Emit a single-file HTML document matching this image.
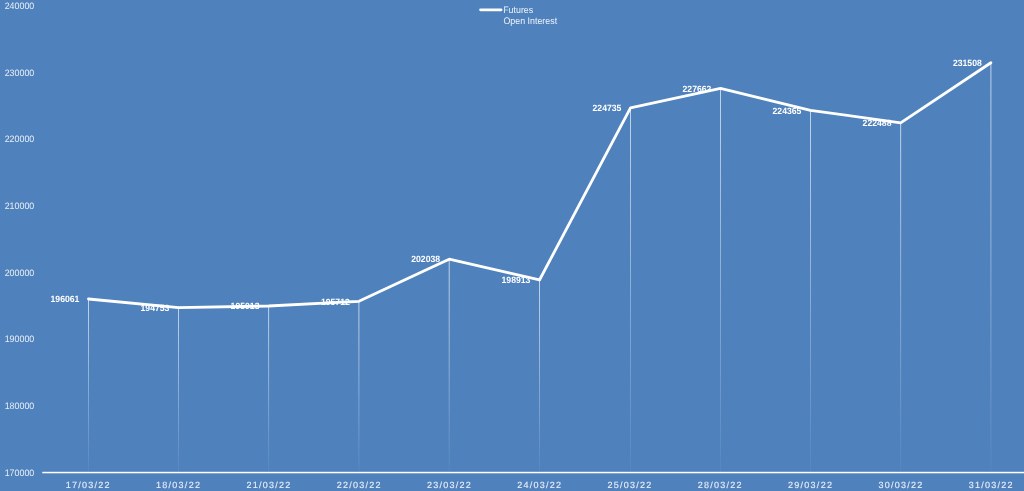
<!DOCTYPE html>
<html><head><meta charset="utf-8"><title>Futures Open Interest</title>
<style>
html,body{margin:0;padding:0;background:#4f81bd;}
body{width:1024px;height:491px;overflow:hidden;font-family:"Liberation Sans",sans-serif;}
svg{display:block;}
text{font-family:"Liberation Sans",sans-serif;}
.yl{font-size:9.4px;fill:#e9eff7;}
.xl{font-size:9.0px;fill:#e9eff7;stroke:#e9eff7;stroke-width:0.12px;}
.dl{font-size:9.1px;font-weight:bold;fill:#ffffff;}
.lg{font-size:9.5px;fill:#eef3f9;}
</style></head><body>
<svg width="1024" height="491" viewBox="0 0 1024 491">
<defs>
<linearGradient id="g0" gradientUnits="userSpaceOnUse" x1="0" y1="299.0" x2="0" y2="472.7"><stop offset="0" stop-color="#fff" stop-opacity="0.66"/><stop offset="1" stop-color="#fff" stop-opacity="0.04"/></linearGradient>
<linearGradient id="g1" gradientUnits="userSpaceOnUse" x1="0" y1="307.7" x2="0" y2="472.7"><stop offset="0" stop-color="#fff" stop-opacity="0.66"/><stop offset="1" stop-color="#fff" stop-opacity="0.04"/></linearGradient>
<linearGradient id="g2" gradientUnits="userSpaceOnUse" x1="0" y1="306.0" x2="0" y2="472.7"><stop offset="0" stop-color="#fff" stop-opacity="0.66"/><stop offset="1" stop-color="#fff" stop-opacity="0.04"/></linearGradient>
<linearGradient id="g3" gradientUnits="userSpaceOnUse" x1="0" y1="301.3" x2="0" y2="472.7"><stop offset="0" stop-color="#fff" stop-opacity="0.66"/><stop offset="1" stop-color="#fff" stop-opacity="0.04"/></linearGradient>
<linearGradient id="g4" gradientUnits="userSpaceOnUse" x1="0" y1="259.2" x2="0" y2="472.7"><stop offset="0" stop-color="#fff" stop-opacity="0.66"/><stop offset="1" stop-color="#fff" stop-opacity="0.04"/></linearGradient>
<linearGradient id="g5" gradientUnits="userSpaceOnUse" x1="0" y1="280.0" x2="0" y2="472.7"><stop offset="0" stop-color="#fff" stop-opacity="0.66"/><stop offset="1" stop-color="#fff" stop-opacity="0.04"/></linearGradient>
<linearGradient id="g6" gradientUnits="userSpaceOnUse" x1="0" y1="107.9" x2="0" y2="472.7"><stop offset="0" stop-color="#fff" stop-opacity="0.66"/><stop offset="1" stop-color="#fff" stop-opacity="0.04"/></linearGradient>
<linearGradient id="g7" gradientUnits="userSpaceOnUse" x1="0" y1="88.4" x2="0" y2="472.7"><stop offset="0" stop-color="#fff" stop-opacity="0.66"/><stop offset="1" stop-color="#fff" stop-opacity="0.04"/></linearGradient>
<linearGradient id="g8" gradientUnits="userSpaceOnUse" x1="0" y1="110.3" x2="0" y2="472.7"><stop offset="0" stop-color="#fff" stop-opacity="0.66"/><stop offset="1" stop-color="#fff" stop-opacity="0.04"/></linearGradient>
<linearGradient id="g9" gradientUnits="userSpaceOnUse" x1="0" y1="122.8" x2="0" y2="472.7"><stop offset="0" stop-color="#fff" stop-opacity="0.66"/><stop offset="1" stop-color="#fff" stop-opacity="0.04"/></linearGradient>
<linearGradient id="g10" gradientUnits="userSpaceOnUse" x1="0" y1="62.7" x2="0" y2="472.7"><stop offset="0" stop-color="#fff" stop-opacity="0.66"/><stop offset="1" stop-color="#fff" stop-opacity="0.04"/></linearGradient>
</defs>
<rect x="0" y="0" width="1024" height="491" fill="#4f81bd"/>
<rect x="88.00" y="299.0" width="1" height="173.7" fill="url(#g0)"/>
<rect x="178.00" y="307.7" width="1" height="165.0" fill="url(#g1)"/>
<rect x="268.10" y="306.0" width="1" height="166.7" fill="url(#g2)"/>
<rect x="358.40" y="301.3" width="1" height="171.4" fill="url(#g3)"/>
<rect x="448.70" y="259.2" width="1" height="213.5" fill="url(#g4)"/>
<rect x="539.00" y="280.0" width="1" height="192.7" fill="url(#g5)"/>
<rect x="630.00" y="107.9" width="1" height="364.8" fill="url(#g6)"/>
<rect x="720.00" y="88.4" width="1" height="384.3" fill="url(#g7)"/>
<rect x="810.00" y="110.3" width="1" height="362.4" fill="url(#g8)"/>
<rect x="900.15" y="122.8" width="1" height="349.9" fill="url(#g9)"/>
<rect x="990.40" y="62.7" width="1" height="410.0" fill="url(#g10)"/>
<rect x="42.3" y="471.8" width="982" height="1.5" fill="#ffffff"/>
<g style="will-change:transform;text-rendering:geometricPrecision">
<text class="yl" x="4.7" y="9.0" textLength="29.6" lengthAdjust="spacingAndGlyphs">240000</text>
<text class="yl" x="4.7" y="76.0" textLength="29.6" lengthAdjust="spacingAndGlyphs">230000</text>
<text class="yl" x="4.7" y="142.0" textLength="29.6" lengthAdjust="spacingAndGlyphs">220000</text>
<text class="yl" x="4.7" y="209.0" textLength="29.6" lengthAdjust="spacingAndGlyphs">210000</text>
<text class="yl" x="4.7" y="276.0" textLength="29.6" lengthAdjust="spacingAndGlyphs">200000</text>
<text class="yl" x="4.7" y="342.0" textLength="29.6" lengthAdjust="spacingAndGlyphs">190000</text>
<text class="yl" x="4.7" y="409.0" textLength="29.6" lengthAdjust="spacingAndGlyphs">180000</text>
<text class="yl" x="4.7" y="476.0" textLength="29.6" lengthAdjust="spacingAndGlyphs">170000</text>
<text class="xl" x="65.8" y="488" textLength="43.8">17/03/22</text>
<text class="xl" x="156.1" y="488" textLength="43.8">18/03/22</text>
<text class="xl" x="246.4" y="488" textLength="43.8">21/03/22</text>
<text class="xl" x="336.7" y="488" textLength="43.8">22/03/22</text>
<text class="xl" x="427.0" y="488" textLength="43.8">23/03/22</text>
<text class="xl" x="517.3" y="488" textLength="43.8">24/03/22</text>
<text class="xl" x="607.5" y="488" textLength="43.8">25/03/22</text>
<text class="xl" x="697.8" y="488" textLength="43.8">28/03/22</text>
<text class="xl" x="788.1" y="488" textLength="43.8">29/03/22</text>
<text class="xl" x="878.4" y="488" textLength="43.8">30/03/22</text>
<text class="xl" x="968.7" y="488" textLength="43.8">31/03/22</text>
<text class="dl" x="50.5" y="302.0" textLength="28.9" lengthAdjust="spacingAndGlyphs">196061</text>
<text class="dl" x="140.5" y="311.0" textLength="28.9" lengthAdjust="spacingAndGlyphs">194753</text>
<text class="dl" x="230.6" y="309.0" textLength="28.9" lengthAdjust="spacingAndGlyphs">195013</text>
<text class="dl" x="320.9" y="305.0" textLength="28.9" lengthAdjust="spacingAndGlyphs">195712</text>
<text class="dl" x="411.2" y="262.0" textLength="28.9" lengthAdjust="spacingAndGlyphs">202038</text>
<text class="dl" x="501.5" y="283.0" textLength="28.9" lengthAdjust="spacingAndGlyphs">198913</text>
<text class="dl" x="592.5" y="111.0" textLength="28.9" lengthAdjust="spacingAndGlyphs">224735</text>
<text class="dl" x="682.5" y="92.0" textLength="28.9" lengthAdjust="spacingAndGlyphs">227662</text>
<text class="dl" x="772.5" y="114.0" textLength="28.9" lengthAdjust="spacingAndGlyphs">224365</text>
<text class="dl" x="862.6" y="126.0" textLength="28.9" lengthAdjust="spacingAndGlyphs">222488</text>
<text class="dl" x="952.9" y="66.0" textLength="28.9" lengthAdjust="spacingAndGlyphs">231508</text>
<text class="lg" x="503.2" y="13.3" textLength="30" lengthAdjust="spacingAndGlyphs">Futures</text>
<text class="lg" x="503.4" y="24.3" textLength="53.7" lengthAdjust="spacingAndGlyphs">Open Interest</text>
</g>
<polyline points="88.50,298.99 178.50,307.71 268.60,305.98 358.90,301.32 449.20,259.15 539.50,279.98 630.50,107.86 720.50,88.35 810.50,110.33 900.65,122.84 990.90,62.72" fill="none" stroke="#ffffff" stroke-width="2.8" stroke-linejoin="round" stroke-linecap="round"/>
<line x1="480.6" y1="9.85" x2="501.0" y2="9.85" stroke="#ffffff" stroke-width="2.9" stroke-linecap="round"/>
</svg>
</body></html>
